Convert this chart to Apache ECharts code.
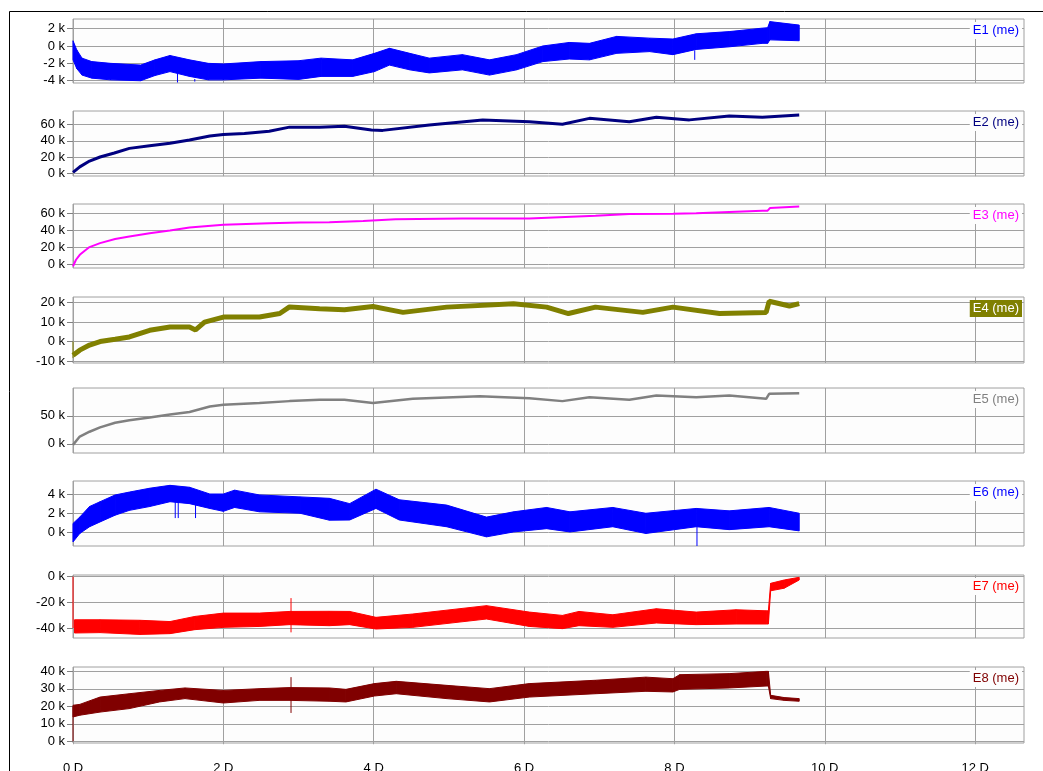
<!DOCTYPE html>
<html><head><meta charset="utf-8">
<script src="https://cdn.jsdelivr.net/npm/echarts@6/dist/echarts.min.js"></script>
<style>html,body{margin:0;padding:0;background:#fff;}#c{width:1043px;height:771px;}</style>
</head><body><div id="c"></div>
<script>
// ---------- axis / label data ----------
const xTickValues = [0, 2, 4, 6, 8, 10, 12];
const panelNames = ['E1 (me)', 'E2 (me)', 'E3 (me)', 'E4 (me)', 'E5 (me)', 'E6 (me)', 'E7 (me)', 'E8 (me)'];
const panelColors = ['#0000ff', '#000080', '#ff00ff', '#808000', '#808080', '#0000ff', '#ff0000', '#800000'];
const yTickValues = [[-4, -2, 0, 2], [0, 20, 40, 60], [0, 20, 40, 60], [-10, 0, 10, 20], [0, 50], [0, 2, 4], [-40, -20, 0], [0, 10, 20, 30, 40]];
const yMin = [-4.26, -3.5, -3.8, -11, -16.4, -1.4, -47.8, -1];
const yMax = [3.1, 77, 70.8, 22.9, 100, 5.35, 1.3, 42.5];

// ---------- series data (k me, x in D) ----------
const e1X  = [0, 0.05, 0.12, 0.25, 0.5, 0.9, 1.09, 1.29, 1.55, 1.8, 2.0, 2.5, 3.0, 3.3, 3.72, 4.01, 4.21, 4.48, 4.74, 5.18, 5.54, 5.9, 6.25, 6.6, 6.87, 7.23, 7.67, 7.98, 8.29, 8.73, 9.17, 9.24, 9.27, 9.66];
const e1Hi = [0.6, -0.45, -1.4, -1.8, -2.0, -2.2, -1.6, -1.1, -1.6, -2.0, -2.07, -1.8, -1.7, -1.4, -1.6, -0.85, -0.27, -0.85, -1.4, -1.0, -1.6, -1.0, 0, 0.4, 0.3, 1.1, 0.9, 0.8, 1.4, 1.65, 2.05, 2.1, 2.8, 2.4];
const e1Lo = [-1.6, -2.6, -3.35, -3.7, -3.9, -4.0, -3.4, -2.95, -3.5, -3.9, -3.9, -3.7, -3.85, -3.5, -3.5, -2.95, -2.2, -2.75, -3.1, -2.75, -3.35, -2.75, -1.8, -1.5, -1.6, -0.85, -0.65, -1.0, -0.4, -0.1, 0.3, 0.3, 0.7, 0.6];
const e1SpikeX = [1.39, 1.62, 8.27];
const e1SpikeTop = [-3.0, -3.8, -0.5];
const e1SpikeBottom = [-4.2, -4.1, -1.6];

const e2X = [0, 0.09, 0.22, 0.36, 0.55, 0.75, 1.02, 1.29, 1.55, 1.82, 2.0, 2.28, 2.61, 2.88, 3.28, 3.61, 3.97, 4.12, 4.74, 5.45, 6.07, 6.51, 6.87, 7.4, 7.76, 8.2, 8.73, 9.17, 9.66];
const e2Y = [1, 7.8, 15, 20, 25, 30.7, 34, 37, 41, 46, 48, 49, 52, 57, 57, 58, 53.4, 53, 59.6, 65.8, 63.7, 60.5, 67.9, 63.7, 69.2, 66, 70.8, 69.2, 72];

const e3X = [0, 0.04, 0.09, 0.16, 0.22, 0.36, 0.56, 0.75, 1.02, 1.29, 1.55, 2.0, 2.61, 3.02, 3.41, 3.86, 4.29, 5.18, 6.07, 6.95, 7.4, 7.98, 8.29, 9.17, 9.24, 9.27, 9.66];
const e3Y = [-2, 5.8, 11.6, 16.6, 20.6, 25.2, 29.9, 33, 36.8, 39.9, 43.4, 46.5, 48.5, 49.3, 49.5, 51, 53, 54, 54, 57, 59, 59.3, 60, 63, 63, 66, 68];

const e4X = [0, 0.02, 0.09, 0.22, 0.36, 0.56, 0.75, 1.02, 1.29, 1.55, 1.63, 1.75, 2.0, 2.48, 2.75, 2.88, 3.28, 3.61, 3.99, 4.39, 4.97, 5.86, 6.3, 6.59, 6.95, 7.58, 7.98, 8.6, 9.22, 9.24, 9.26, 9.53, 9.66];
const e4Y = [-7, -7.5, -4.4, -1.8, 0, 1.2, 2.4, 5.8, 7.5, 7.5, 6, 10, 12.6, 12.6, 14.4, 17.8, 16.9, 16.4, 18, 15, 17.7, 19.4, 17.7, 14.4, 17.7, 15, 17.7, 14.4, 15, 15, 20.7, 18.3, 19.5];
const e4SpikeX = [0];
const e4SpikeTop = [0];
const e4SpikeBottom = [-8.5];

const e5X = [0, 0.09, 0.22, 0.36, 0.56, 0.75, 1.02, 1.29, 1.55, 1.82, 2.0, 2.48, 2.88, 3.28, 3.61, 3.99, 4.52, 5.41, 6.07, 6.51, 6.87, 7.4, 7.76, 8.29, 8.73, 9.22, 9.24, 9.26, 9.66];
const e5Y = [-1.8, 13, 21.7, 29.4, 37.7, 42.4, 47, 52.4, 57, 67, 70, 73, 76.5, 79, 79, 73, 80.7, 85.3, 81.8, 76.5, 83.6, 79, 86.6, 83.6, 86.6, 80.7, 80.7, 89.5, 90.6];

const e6X  = [0, 0.09, 0.22, 0.36, 0.56, 0.75, 1.02, 1.29, 1.55, 1.82, 2.0, 2.15, 2.48, 3.02, 3.41, 3.68, 4.03, 4.34, 4.97, 5.5, 5.86, 6.3, 6.61, 7.18, 7.62, 8.29, 8.73, 9.26, 9.66];
const e6Hi = [0.94, 1.6, 2.7, 3.2, 3.9, 4.2, 4.6, 4.9, 4.7, 4.0, 4.0, 4.4, 3.9, 3.7, 3.55, 3.0, 4.5, 3.4, 2.85, 1.6, 2.15, 2.6, 2.15, 2.6, 2.0, 2.5, 2.25, 2.6, 2.0];
const e6Lo = [-0.98, -0.1, 0.6, 1.1, 1.8, 2.3, 2.7, 3.2, 3.0, 2.5, 2.2, 2.6, 2.15, 2.0, 1.28, 1.3, 2.5, 1.3, 0.6, -0.45, 0.06, 0.4, 0.06, 0.6, -0.1, 0.6, 0.3, 0.6, 0.17];
const e6SpikeX = [1.36, 1.40, 1.63, 8.3];
const e6SpikeTop = [3.3, 3.3, 3.0, 0.6];
const e6SpikeBottom = [1.5, 1.5, 1.5, -1.4];

const e7X  = [0.02, 0.36, 0.89, 1.29, 1.62, 2.0, 2.48, 2.88, 3.41, 3.68, 4.03, 4.52, 5.5, 6.07, 6.51, 6.73, 7.18, 7.76, 8.29, 8.82, 9.22, 9.25, 9.28, 9.46, 9.66];
const e7Hi = [-33.6, -33.6, -34, -35, -31, -28.4, -28.4, -27.1, -27, -27.1, -31.7, -29.1, -22.6, -27.6, -30.2, -27.1, -29.7, -25, -27.6, -25.8, -26.6, -26.6, -5.2, -2.6, -0.5];
const e7Lo = [-43.9, -43.6, -45, -44.4, -41.3, -39.5, -38.8, -37.4, -38.2, -37.4, -40.8, -39.5, -33, -38.8, -40.5, -38.2, -39.5, -36.1, -37.4, -36.9, -36.9, -36.9, -11, -9, -2.6];
const e7SpikeX = [0, 2.9];
const e7SpikeTop = [0, -16.7];
const e7SpikeBottom = [-40, -43.4];

const e8X  = [0, 0.09, 0.36, 0.75, 1.15, 1.49, 2.0, 2.48, 2.88, 3.41, 3.63, 4.01, 4.3, 4.97, 5.54, 6.07, 6.95, 7.62, 7.98, 8.07, 8.73, 9.22, 9.25, 9.28, 9.46, 9.66];
const e8Hi = [20.6, 21.1, 25.3, 27.2, 29.1, 30.5, 29.1, 30.1, 30.7, 30.5, 29.7, 33, 34.3, 32, 30.1, 33, 34.9, 36.7, 35.8, 38.1, 38.7, 40, 40, 26.3, 25, 24.4];
const e8Lo = [13.9, 14.9, 16.7, 18.7, 22.5, 24.4, 21.9, 23.4, 23.4, 22.9, 22.5, 25.9, 27.2, 24.4, 22.5, 25.3, 27.2, 28.6, 28.2, 29.7, 30.5, 31.6, 31.6, 24.4, 23.4, 22.9];
const e8SpikeX = [0, 2.9];
const e8SpikeTop = [20, 36.7];
const e8SpikeBottom = [0, 16.2];

// ---------- build ----------
const FONT = 'Arial, "Liberation Sans", sans-serif';
const GRID_COLOR = '#a0a0a0';
const tops = [19, 111, 204, 297, 388, 481, 575, 667];
const heights = [64, 65, 64, 66, 65, 65, 63, 76];

const grids = [], xAxes = [], yAxes = [], series = [], graphics = [];
for (let i = 0; i < 8; i++) {
  grids.push({left: 73, width: 951, top: tops[i], height: heights[i], show: true,
    outerBoundsMode: 'none', containLabel: false,
    backgroundColor: '#fdfdfd', borderColor: GRID_COLOR, borderWidth: 1});
  xAxes.push({type: 'value', gridIndex: i, min: 0, max: 12.65,
    axisLine: {show: false},
    axisTick: {show: true, customValues: xTickValues, length: 3, lineStyle: {color: GRID_COLOR}},
    axisLabel: {show: i === 7, customValues: xTickValues, formatter: v => v + ' D', margin: 19,
      fontSize: 13, color: '#000', fontFamily: FONT},
    splitLine: {show: true, lineStyle: {color: GRID_COLOR, width: 1}}});
  yAxes.push({type: 'value', gridIndex: i, min: yMin[i], max: yMax[i],
    axisLine: {show: false},
    axisTick: {show: true, customValues: yTickValues[i], length: 6, lineStyle: {color: '#808080'}},
    axisLabel: {customValues: yTickValues[i], formatter: v => v + ' k', margin: 8,
      fontSize: 13, color: '#000', fontFamily: FONT},
    splitLine: {show: true, lineStyle: {color: GRID_COLOR, width: 1}}});
}

function pairs(xs, ys) { return xs.map((x, k) => [x, ys[k]]); }
function band(i, xs, hi, lo) {
  const color = panelColors[i];
  const data = [];
  for (let k = 0; k < xs.length - 1; k++) data.push([xs[k], lo[k], hi[k], xs[k + 1], lo[k + 1], hi[k + 1]]);
  series.push({type: 'custom', xAxisIndex: i, yAxisIndex: i, silent: true, z: 3,
    encode: {x: [0, 3], y: [1, 2, 4, 5]}, data: data,
    renderItem: (params, api) => {
      const p0 = api.coord([api.value(0), api.value(1)]);
      const p1 = api.coord([api.value(0), api.value(2)]);
      const p2 = api.coord([api.value(3), api.value(5)]);
      const p3 = api.coord([api.value(3), api.value(4)]);
      return {type: 'polygon', shape: {points: [p0, p1, p2, p3]},
        style: {fill: color, stroke: color, lineWidth: 1}};
    }});
}
function line(i, xs, ys, w) {
  series.push({type: 'line', xAxisIndex: i, yAxisIndex: i, data: pairs(xs, ys), symbol: 'none',
    silent: true, lineStyle: {color: panelColors[i], width: w}, z: 3});
}
function spikes(i, xs, top, bottom) {
  const d = [];
  xs.forEach((x, k) => { d.push([x, top[k]], [x, bottom[k]], [x, null]); });
  series.push({type: 'line', xAxisIndex: i, yAxisIndex: i, data: d, symbol: 'none', silent: true,
    connectNulls: false, lineStyle: {color: panelColors[i], width: 1}, z: 4});
}

band(0, e1X, e1Hi, e1Lo); spikes(0, e1SpikeX, e1SpikeTop, e1SpikeBottom);
line(1, e2X, e2Y, 3);
line(2, e3X, e3Y, 2);
line(3, e4X, e4Y, 5); spikes(3, e4SpikeX, e4SpikeTop, e4SpikeBottom);
line(4, e5X, e5Y, 2.5);
band(5, e6X, e6Hi, e6Lo); spikes(5, e6SpikeX, e6SpikeTop, e6SpikeBottom);
band(6, e7X, e7Hi, e7Lo); spikes(6, e7SpikeX, e7SpikeTop, e7SpikeBottom);
band(7, e8X, e8Hi, e8Lo); spikes(7, e8SpikeX, e8SpikeTop, e8SpikeBottom);

for (let i = 0; i < 8; i++) {
  const sel = i === 3;
  graphics.push({type: 'text', right: 21, top: tops[i] + 3, z: 100,
    style: {text: panelNames[i], fill: sel ? '#ffffff' : panelColors[i], font: '13px ' + FONT,
      backgroundColor: sel ? '#808000' : '#fdfdfd', padding: [2, 3, 2, 3]}});
}
graphics.push({type: 'polyline', z: 100, shape: {points: [[9.5, 771], [9.5, 11.5], [1043, 11.5]]},
  style: {stroke: '#000', lineWidth: 1, fill: null}});

const chart = echarts.init(document.getElementById('c'), null, {renderer: 'canvas'});
chart.setOption({animation: false, backgroundColor: '#ffffff', grid: grids, xAxis: xAxes, yAxis: yAxes,
  series: series, graphic: graphics});
</script></body></html>
